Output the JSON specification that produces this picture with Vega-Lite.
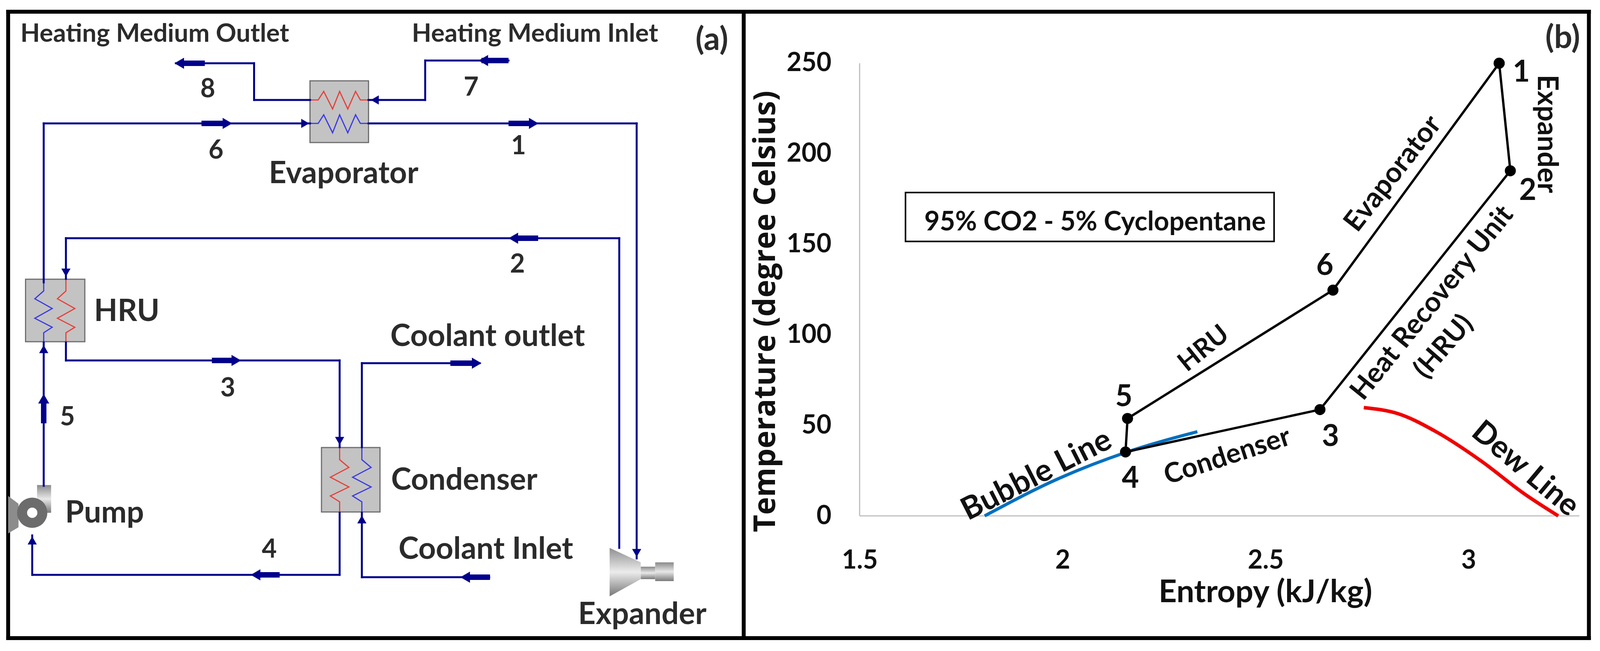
{
  "$schema": "https://vega.github.io/schema/vega-lite/v6.json",
  "background": "white",
  "padding": 0,
  "autosize": {"type": "fit", "contains": "padding"},
  "width": 4096,
  "height": 1667,
  "config": {
    "view": {"stroke": null},
    "text": {"font": "Lato", "fontWeight": "bold", "color": "#2b2b2b"},
    "axis": {"grid": false, "ticks": false, "domain": false}
  },
  "datasets": {
    "boxes": [
      {"x": 837, "y": 207, "x2": 995, "y2": 365},
      {"x": 69, "y": 715, "x2": 229, "y2": 875},
      {"x": 868, "y": 1146, "x2": 1026, "y2": 1311}
    ],
    "frame": [
      {"x": 22, "y": 30, "x2": 4290, "y2": 30},
      {"x": 22, "y": 1634, "x2": 4290, "y2": 1634},
      {"x": 22, "y": 30, "x2": 22, "y2": 1634},
      {"x": 2008, "y": 30, "x2": 2008, "y2": 1634},
      {"x": 4290, "y": 30, "x2": 4290, "y2": 1634}
    ],
    "pipes": [
      {"x": 475, "y": 162, "x2": 686, "y2": 162},
      {"x": 686, "y": 162, "x2": 686, "y2": 256},
      {"x": 686, "y": 256, "x2": 837, "y2": 256},
      {"x": 1373, "y": 155, "x2": 1148, "y2": 155},
      {"x": 1148, "y": 155, "x2": 1148, "y2": 256},
      {"x": 1148, "y": 256, "x2": 995, "y2": 256},
      {"x": 118, "y": 723, "x2": 118, "y2": 316},
      {"x": 118, "y": 316, "x2": 837, "y2": 316},
      {"x": 995, "y": 316, "x2": 1719, "y2": 316},
      {"x": 1719, "y": 316, "x2": 1719, "y2": 1430},
      {"x": 1672, "y": 1403, "x2": 1672, "y2": 610},
      {"x": 1672, "y": 610, "x2": 178, "y2": 610},
      {"x": 178, "y": 610, "x2": 178, "y2": 714},
      {"x": 178, "y": 877, "x2": 178, "y2": 923},
      {"x": 178, "y": 923, "x2": 917, "y2": 923},
      {"x": 917, "y": 923, "x2": 917, "y2": 1145},
      {"x": 977, "y": 1145, "x2": 977, "y2": 930},
      {"x": 977, "y": 930, "x2": 1295, "y2": 930},
      {"x": 917, "y": 1313, "x2": 917, "y2": 1472},
      {"x": 917, "y": 1472, "x2": 87, "y2": 1472},
      {"x": 87, "y": 1472, "x2": 87, "y2": 1371},
      {"x": 1321, "y": 1478, "x2": 977, "y2": 1478},
      {"x": 977, "y": 1478, "x2": 977, "y2": 1313},
      {"x": 118, "y": 1244, "x2": 118, "y2": 877}
    ],
    "thick": [
      {"x": 490, "y": 162, "x2": 553, "y2": 162},
      {"x": 1300, "y": 155, "x2": 1373, "y2": 155},
      {"x": 544, "y": 316, "x2": 612, "y2": 316},
      {"x": 1373, "y": 316, "x2": 1441, "y2": 316},
      {"x": 1385, "y": 610, "x2": 1453, "y2": 610},
      {"x": 572, "y": 923, "x2": 638, "y2": 923},
      {"x": 1216, "y": 930, "x2": 1288, "y2": 930},
      {"x": 690, "y": 1472, "x2": 755, "y2": 1472},
      {"x": 1255, "y": 1478, "x2": 1323, "y2": 1478},
      {"x": 118, "y": 1022, "x2": 118, "y2": 1084}
    ],
    "smallHeads": [
      {"x": 824, "y": 316, "dir": "right"},
      {"x": 1012, "y": 256, "dir": "left"},
      {"x": 178, "y": 698, "dir": "down"},
      {"x": 118, "y": 894, "dir": "up"},
      {"x": 917, "y": 1129, "dir": "down"},
      {"x": 977, "y": 1330, "dir": "up"},
      {"x": 87, "y": 1384, "dir": "up"},
      {"x": 1719, "y": 1416, "dir": "down"}
    ],
    "bigHeads": [
      {"x": 484, "y": 162, "dir": "left"},
      {"x": 1305, "y": 155, "dir": "left"},
      {"x": 614, "y": 316, "dir": "right"},
      {"x": 1441, "y": 316, "dir": "right"},
      {"x": 1386, "y": 610, "dir": "left"},
      {"x": 638, "y": 923, "dir": "right"},
      {"x": 1287, "y": 930, "dir": "right"},
      {"x": 690, "y": 1472, "dir": "left"},
      {"x": 1256, "y": 1478, "dir": "left"},
      {"x": 118, "y": 1021, "dir": "up"}
    ],
    "coils": [
      {"coil": "evapHot", "side": "hot", "i": 0, "x": 837, "y": 256},
      {"coil": "evapHot", "side": "hot", "i": 1, "x": 859, "y": 256},
      {"coil": "evapHot", "side": "hot", "i": 2, "x": 874, "y": 234},
      {"coil": "evapHot", "side": "hot", "i": 3, "x": 898, "y": 279},
      {"coil": "evapHot", "side": "hot", "i": 4, "x": 917, "y": 234},
      {"coil": "evapHot", "side": "hot", "i": 5, "x": 939, "y": 279},
      {"coil": "evapHot", "side": "hot", "i": 6, "x": 960, "y": 234},
      {"coil": "evapHot", "side": "hot", "i": 7, "x": 973, "y": 256},
      {"coil": "evapHot", "side": "hot", "i": 8, "x": 995, "y": 256},
      {"coil": "evapCold", "side": "cold", "i": 0, "x": 837, "y": 316},
      {"coil": "evapCold", "side": "cold", "i": 1, "x": 859, "y": 316},
      {"coil": "evapCold", "side": "cold", "i": 2, "x": 874, "y": 294},
      {"coil": "evapCold", "side": "cold", "i": 3, "x": 898, "y": 340},
      {"coil": "evapCold", "side": "cold", "i": 4, "x": 917, "y": 294},
      {"coil": "evapCold", "side": "cold", "i": 5, "x": 939, "y": 340},
      {"coil": "evapCold", "side": "cold", "i": 6, "x": 960, "y": 294},
      {"coil": "evapCold", "side": "cold", "i": 7, "x": 973, "y": 316},
      {"coil": "evapCold", "side": "cold", "i": 8, "x": 995, "y": 316},
      {"coil": "hruCold", "side": "cold", "i": 0, "x": 118, "y": 715},
      {"coil": "hruCold", "side": "cold", "i": 1, "x": 118, "y": 745},
      {"coil": "hruCold", "side": "cold", "i": 2, "x": 94, "y": 765},
      {"coil": "hruCold", "side": "cold", "i": 3, "x": 141, "y": 790},
      {"coil": "hruCold", "side": "cold", "i": 4, "x": 94, "y": 815},
      {"coil": "hruCold", "side": "cold", "i": 5, "x": 141, "y": 838},
      {"coil": "hruCold", "side": "cold", "i": 6, "x": 118, "y": 852},
      {"coil": "hruCold", "side": "cold", "i": 7, "x": 118, "y": 875},
      {"coil": "hruHot", "side": "hot", "i": 0, "x": 178, "y": 715},
      {"coil": "hruHot", "side": "hot", "i": 1, "x": 178, "y": 745},
      {"coil": "hruHot", "side": "hot", "i": 2, "x": 155, "y": 765},
      {"coil": "hruHot", "side": "hot", "i": 3, "x": 202, "y": 790},
      {"coil": "hruHot", "side": "hot", "i": 4, "x": 155, "y": 815},
      {"coil": "hruHot", "side": "hot", "i": 5, "x": 202, "y": 838},
      {"coil": "hruHot", "side": "hot", "i": 6, "x": 178, "y": 852},
      {"coil": "hruHot", "side": "hot", "i": 7, "x": 178, "y": 875},
      {"coil": "condHot", "side": "hot", "i": 0, "x": 917, "y": 1146},
      {"coil": "condHot", "side": "hot", "i": 1, "x": 917, "y": 1177},
      {"coil": "condHot", "side": "hot", "i": 2, "x": 942, "y": 1197},
      {"coil": "condHot", "side": "hot", "i": 3, "x": 892, "y": 1222},
      {"coil": "condHot", "side": "hot", "i": 4, "x": 942, "y": 1247},
      {"coil": "condHot", "side": "hot", "i": 5, "x": 892, "y": 1270},
      {"coil": "condHot", "side": "hot", "i": 6, "x": 917, "y": 1285},
      {"coil": "condHot", "side": "hot", "i": 7, "x": 917, "y": 1311},
      {"coil": "condCold", "side": "cold", "i": 0, "x": 977, "y": 1146},
      {"coil": "condCold", "side": "cold", "i": 1, "x": 977, "y": 1177},
      {"coil": "condCold", "side": "cold", "i": 2, "x": 1002, "y": 1197},
      {"coil": "condCold", "side": "cold", "i": 3, "x": 952, "y": 1222},
      {"coil": "condCold", "side": "cold", "i": 4, "x": 1002, "y": 1247},
      {"coil": "condCold", "side": "cold", "i": 5, "x": 952, "y": 1270},
      {"coil": "condCold", "side": "cold", "i": 6, "x": 977, "y": 1285},
      {"coil": "condCold", "side": "cold", "i": 7, "x": 977, "y": 1311}
    ],
    "cone": [
      {"x": 1646, "y": 1403, "y2": 1527},
      {"x": 1730, "y": 1440, "y2": 1483}
    ],
    "shafts": [
      {"x": 1730, "x2": 1769, "y": 1451, "y2": 1483},
      {"x": 1769, "x2": 1819, "y": 1440, "y2": 1488},
      {"x": 100, "x2": 138, "y": 1242, "y2": 1313}
    ],
    "pumpWing": [
      {"x": 22, "y": 1270, "y2": 1366},
      {"x": 50, "y": 1290, "y2": 1350}
    ],
    "pump": [{"x": 87, "y": 1313}],
    "labelsSmall": [
      {"x": 55, "y": 87, "t": "Heating Medium Outlet"},
      {"x": 1112, "y": 87, "t": "Heating Medium Inlet"}
    ],
    "labelsName": [
      {"x": 726, "y": 446, "t": "Evaporator"},
      {"x": 254, "y": 799, "t": "HRU"},
      {"x": 1054, "y": 863, "t": "Coolant outlet"},
      {"x": 1056, "y": 1231, "t": "Condenser"},
      {"x": 176, "y": 1315, "t": "Pump"},
      {"x": 1076, "y": 1408, "t": "Coolant Inlet"},
      {"x": 1561, "y": 1575, "t": "Expander"}
    ],
    "labelsNum": [
      {"x": 561, "y": 229, "t": "8"},
      {"x": 1272, "y": 225, "t": "7"},
      {"x": 583, "y": 386, "t": "6"},
      {"x": 1400, "y": 375, "t": "1"},
      {"x": 1397, "y": 678, "t": "2"},
      {"x": 615, "y": 995, "t": "3"},
      {"x": 182, "y": 1069, "t": "5"},
      {"x": 727, "y": 1408, "t": "4"}
    ],
    "axisLines": [
      {"entropy": 1.5, "temp": 0, "e2": 3.273, "t2": 0},
      {"entropy": 1.5, "temp": 0, "e2": 1.5, "t2": 250}
    ],
    "cycle": [
      {"entropy": 3.0755, "temp": 250, "i": 0},
      {"entropy": 3.103, "temp": 190.6, "i": 1},
      {"entropy": 2.634, "temp": 58.7, "i": 2},
      {"entropy": 2.155, "temp": 35.3, "i": 3},
      {"entropy": 2.16, "temp": 53.8, "i": 4},
      {"entropy": 2.666, "temp": 124.7, "i": 5},
      {"entropy": 3.0755, "temp": 250, "i": 6}
    ],
    "bubble": [
      {"entropy": 1.808, "temp": 0},
      {"entropy": 1.99, "temp": 20.6},
      {"entropy": 2.155, "temp": 35},
      {"entropy": 2.332, "temp": 46.5}
    ],
    "dew": [
      {"entropy": 2.742, "temp": 59.8},
      {"entropy": 2.827, "temp": 56.4},
      {"entropy": 2.92, "temp": 46.5},
      {"entropy": 3.03, "temp": 30.5},
      {"entropy": 3.138, "temp": 12.1},
      {"entropy": 3.221, "temp": 0}
    ],
    "stateNums": [
      {"entropy": 3.13, "temp": 244.8, "t": "1"},
      {"entropy": 3.146, "temp": 179.5, "t": "2"},
      {"entropy": 2.66, "temp": 43.6, "t": "3"},
      {"entropy": 2.167, "temp": 20.5, "t": "4"},
      {"entropy": 2.151, "temp": 65.6, "t": "5"},
      {"entropy": 2.646, "temp": 138, "t": "6"}
    ]
  },
  "resolve": {"scale": {"x": "independent", "y": "independent", "shape": "independent", "color": "independent"}},
  "layer": [
    {
      "encoding": {
        "x": {"field": "x", "type": "quantitative", "scale": {"domain": [0, 4320], "nice": false, "zero": false}, "axis": null},
        "y": {"field": "y", "type": "quantitative", "scale": {"domain": [1667, 0], "nice": false, "zero": false}, "axis": null}
      },
      "layer": [
        {
          "data": {"name": "boxes"},
          "mark": {"type": "rect", "fill": "#c3c3c3", "stroke": "#6e6e6e", "strokeWidth": 3},
          "encoding": {"x2": {"field": "x2"}, "y2": {"field": "y2"}}
        },
        {
          "data": {"name": "frame"},
          "mark": {"type": "rule", "stroke": "#000", "strokeWidth": 10, "strokeCap": "square"},
          "encoding": {"x2": {"field": "x2"}, "y2": {"field": "y2"}}
        },
        {
          "data": {"name": "shafts"},
          "mark": {
            "type": "rect",
            "fill": {"x1": 0, "y1": 0, "x2": 0, "y2": 1, "gradient": "linear", "stops": [{"offset": 0, "color": "#8a8a8a"}, {"offset": 0.5, "color": "#e8e8e8"}, {"offset": 1, "color": "#7a7a7a"}]}
          },
          "encoding": {"x2": {"field": "x2"}, "y2": {"field": "y2"}}
        },
        {
          "data": {"name": "cone"},
          "mark": {
            "type": "area",
            "orient": "vertical",
            "fill": {"x1": 0, "y1": 0, "x2": 0, "y2": 1, "gradient": "linear", "stops": [{"offset": 0, "color": "#8f8f8f"}, {"offset": 0.5, "color": "#ececec"}, {"offset": 1, "color": "#777777"}]}
          },
          "encoding": {"y2": {"field": "y2"}}
        },
        {
          "data": {"name": "pumpWing"},
          "mark": {"type": "area", "orient": "vertical", "fill": "#8c8c8c"},
          "encoding": {"y2": {"field": "y2"}}
        },
        {
          "data": {"name": "pump"},
          "mark": {"type": "point", "filled": true, "shape": "circle", "size": 6000, "color": "#6c6c6c", "opacity": 1}
        },
        {
          "data": {"name": "pump"},
          "mark": {"type": "point", "filled": true, "shape": "circle", "size": 700, "color": "#ffffff", "opacity": 1}
        },
        {
          "data": {"name": "coils"},
          "mark": {"type": "line", "strokeWidth": 3},
          "encoding": {
            "detail": {"field": "coil"},
            "order": {"field": "i", "type": "quantitative"},
            "color": {"field": "side", "type": "nominal", "scale": {"domain": ["hot", "cold"], "range": ["#e8403a", "#3a3ae8"]}, "legend": null}
          }
        },
        {
          "data": {"name": "pipes"},
          "mark": {"type": "rule", "stroke": "#00008b", "strokeWidth": 5, "strokeCap": "square"},
          "encoding": {"x2": {"field": "x2"}, "y2": {"field": "y2"}}
        },
        {
          "data": {"name": "thick"},
          "mark": {"type": "rule", "stroke": "#00008b", "strokeWidth": 14},
          "encoding": {"x2": {"field": "x2"}, "y2": {"field": "y2"}}
        },
        {
          "data": {"name": "smallHeads"},
          "mark": {"type": "point", "filled": true, "size": 550, "color": "#00008b", "opacity": 1},
          "encoding": {
            "shape": {"field": "dir", "type": "nominal", "scale": {"domain": ["up", "down", "left", "right"], "range": ["triangle-up", "triangle-down", "triangle-left", "triangle-right"]}, "legend": null}
          }
        },
        {
          "data": {"name": "bigHeads"},
          "mark": {"type": "point", "filled": true, "size": 800, "color": "#00008b", "opacity": 1},
          "encoding": {
            "shape": {"field": "dir", "type": "nominal", "scale": {"domain": ["up", "down", "left", "right"], "range": ["triangle-up", "triangle-down", "triangle-left", "triangle-right"]}, "legend": null}
          }
        },
        {
          "data": {"name": "labelsSmall"},
          "mark": {"type": "text", "align": "left", "baseline": "middle", "fontSize": 65},
          "encoding": {"text": {"field": "t"}}
        },
        {
          "data": {"name": "labelsName"},
          "mark": {"type": "text", "align": "left", "baseline": "middle", "fontSize": 78},
          "encoding": {"text": {"field": "t"}}
        },
        {
          "data": {"name": "labelsNum"},
          "mark": {"type": "text", "align": "center", "baseline": "middle", "fontSize": 66},
          "encoding": {"text": {"field": "t"}}
        },
        {
          "data": {"values": [{"x": 1922, "y": 103, "t": "(a)"}]},
          "mark": {"type": "text", "align": "center", "baseline": "middle", "fontSize": 82},
          "encoding": {"text": {"field": "t"}}
        }
      ]
    },
    {
      "encoding": {
        "x": {
          "field": "entropy",
          "type": "quantitative",
          "scale": {"domain": [-0.6177, 3.3239], "nice": false, "zero": false},
          "axis": {
            "orient": "bottom",
            "offset": -346,
            "title": "Entropy (kJ/kg)",
            "values": [1.5, 2, 2.5, 3],
            "format": ".1~f",
            "labelFont": "Lato", "labelFontWeight": "bold", "labelFontSize": 66, "labelColor": "#111", "labelPadding": 82, "labelFlush": false, "labelOverlap": false,
            "titleFont": "Lato", "titleFontWeight": "bold", "titleFontSize": 81, "titleColor": "#111", "titleX": 3239, "titleY": 196, "titleBaseline": "middle", "titleAlign": "center"
          }
        },
        "y": {
          "field": "temp",
          "type": "quantitative",
          "scale": {"domain": [-74.63, 284.94], "nice": false, "zero": false},
          "axis": {
            "orient": "left",
            "offset": -2201,
            "title": "Temperature (degree Celsius)",
            "values": [0, 50, 100, 150, 200, 250],
            "labelFont": "Lato", "labelFontWeight": "bold", "labelFontSize": 66, "labelColor": "#111", "labelPadding": 73, "labelOverlap": false,
            "titleFont": "Open Sans", "titleFontWeight": "bold", "titleFontSize": 77, "titleColor": "#111", "titleX": -241, "titleY": 797, "titleBaseline": "middle", "titleAlign": "center"
          }
        }
      },
      "layer": [
        {
          "data": {"name": "axisLines"},
          "mark": {"type": "rule", "stroke": "#bfbfbf", "strokeWidth": 3},
          "encoding": {"x2": {"field": "e2"}, "y2": {"field": "t2"}}
        },
        {
          "data": {"values": [{"entropy": 1.613, "temp": 178.6, "e2": 2.521, "t2": 151.6}]},
          "mark": {"type": "rect", "fillOpacity": 0, "stroke": "#000", "strokeWidth": 4},
          "encoding": {"x2": {"field": "e2"}, "y2": {"field": "t2"}}
        },
        {
          "data": {"name": "bubble"},
          "mark": {"type": "line", "stroke": "#0070c0", "strokeWidth": 8, "interpolate": "monotone"}
        },
        {
          "data": {"name": "dew"},
          "mark": {"type": "line", "stroke": "#f00000", "strokeWidth": 9, "interpolate": "monotone"}
        },
        {
          "data": {"name": "cycle"},
          "mark": {"type": "line", "stroke": "#000", "strokeWidth": 6},
          "encoding": {"order": {"field": "i", "type": "quantitative"}}
        },
        {
          "data": {"name": "cycle"},
          "mark": {"type": "point", "filled": true, "shape": "circle", "size": 800, "color": "#000", "opacity": 1}
        },
        {
          "data": {"name": "stateNums"},
          "mark": {"type": "text", "baseline": "middle", "fontSize": 76, "color": "#111"},
          "encoding": {"text": {"field": "t"}}
        },
        {
          "data": {"values": [{"entropy": 3.232, "temp": 263.8, "t": "(b)"}]},
          "mark": {"type": "text", "baseline": "middle", "fontSize": 82},
          "encoding": {"text": {"field": "t"}}
        },
        {
          "data": {"values": [{"entropy": 2.08, "temp": 162, "t": "95% CO2 - 5% Cyclopentane"}]},
          "mark": {"type": "text", "baseline": "middle", "fontSize": 68, "color": "#111"},
          "encoding": {"text": {"field": "t"}}
        },
        {
          "data": {"values": [{"entropy": 3.192, "temp": 211, "t": "Expander"}]},
          "mark": {"type": "text", "baseline": "middle", "fontSize": 72, "angle": 90, "color": "#111"},
          "encoding": {"text": {"field": "t"}}
        },
        {
          "data": {"values": [{"entropy": 2.814, "temp": 189, "t": "Evaporator"}]},
          "mark": {"type": "text", "baseline": "middle", "fontSize": 72, "angle": 308, "color": "#111"},
          "encoding": {"text": {"field": "t"}}
        },
        {
          "data": {"values": [{"entropy": 2.348, "temp": 92.3, "t": "HRU"}]},
          "mark": {"type": "text", "baseline": "middle", "fontSize": 67, "angle": 321, "color": "#111"},
          "encoding": {"text": {"field": "t"}}
        },
        {
          "data": {"values": [{"entropy": 2.911, "temp": 117.5, "t": "Heat Recovery Unit"}]},
          "mark": {"type": "text", "baseline": "middle", "fontSize": 71, "angle": 309, "color": "#111"},
          "encoding": {"text": {"field": "t"}}
        },
        {
          "data": {"values": [{"entropy": 2.939, "temp": 93.4, "t": "(HRU)"}]},
          "mark": {"type": "text", "baseline": "middle", "fontSize": 70, "angle": 311, "color": "#111"},
          "encoding": {"text": {"field": "t"}}
        },
        {
          "data": {"values": [{"entropy": 1.936, "temp": 22.4, "t": "Bubble Line"}]},
          "mark": {"type": "text", "baseline": "middle", "fontSize": 80, "angle": 333, "color": "#111"},
          "encoding": {"text": {"field": "t"}}
        },
        {
          "data": {"values": [{"entropy": 2.406, "temp": 32.8, "t": "Condenser"}]},
          "mark": {"type": "text", "baseline": "middle", "fontSize": 70, "angle": 342, "color": "#111"},
          "encoding": {"text": {"field": "t"}}
        },
        {
          "data": {"values": [{"entropy": 3.14, "temp": 25.9, "t": "Dew Line"}]},
          "mark": {"type": "text", "baseline": "middle", "fontSize": 79, "angle": 40, "color": "#111"},
          "encoding": {"text": {"field": "t"}}
        }
      ]
    }
  ]
}
